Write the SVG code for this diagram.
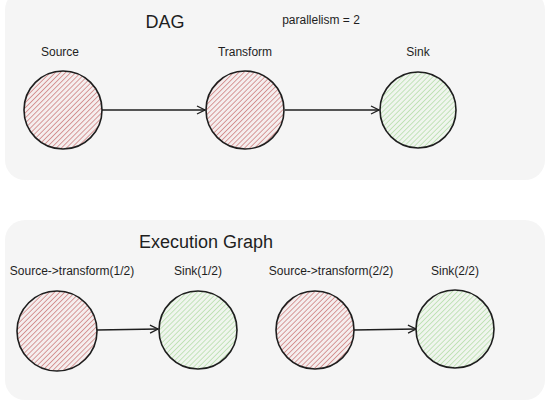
<svg xmlns="http://www.w3.org/2000/svg" width="547" height="401" viewBox="0 0 547 401">
<style>
.panel{fill:#f5f5f5;stroke:none}
.node{stroke:#1e1e1e;stroke-width:1.6}
.red{fill:url(#hr)}
.green{fill:url(#hg)}
.lbl{font-family:"Liberation Sans",Arial,sans-serif;font-size:12px;fill:#1e1e1e;text-anchor:middle}
.title{font-family:"Liberation Sans",Arial,sans-serif;font-size:18px;fill:#1e1e1e;text-anchor:middle}
.edge{stroke:#1e1e1e;stroke-width:1.3;fill:none;marker-end:url(#arr)}
</style>
<defs>
<pattern id="hr" patternUnits="userSpaceOnUse" width="3.6" height="4" patternTransform="rotate(45)">
<rect width="3.6" height="4" fill="#f5eeee"/>
<line x1="0" y1="0" x2="0" y2="4" stroke="#cc7c7c" stroke-width="1.5"/>
</pattern>
<pattern id="hg" patternUnits="userSpaceOnUse" width="3.6" height="4" patternTransform="rotate(45)">
<rect width="3.6" height="4" fill="#f0f5ee"/>
<line x1="0" y1="0" x2="0" y2="4" stroke="#b4dea8" stroke-width="1.5"/>
</pattern>
<marker id="arr" markerWidth="10" markerHeight="10" refX="9" refY="5" orient="auto" markerUnits="userSpaceOnUse">
<path d="M1,1 L9,5 L1,9" fill="none" stroke="#1e1e1e" stroke-width="1.3"/>
</marker>
</defs>
<rect class="panel" x="5" y="-10" width="540" height="190" rx="20"/>
<rect class="panel" x="5" y="220" width="540" height="180" rx="20"/>
<text class="title" x="165" y="28">DAG</text>
<text class="lbl" x="321" y="24">parallelism = 2</text>
<text class="title" x="206" y="248">Execution Graph</text>
<g id="edges">
<line class="edge" x1="102" y1="110" x2="205" y2="110"/>
<line class="edge" x1="285" y1="110" x2="379" y2="110"/>
<line class="edge" x1="97" y1="330" x2="158" y2="329"/>
<line class="edge" x1="354" y1="330" x2="416" y2="329"/>
</g>
<g id="source">
<circle class="node red" cx="63" cy="110" r="39"/>
<text class="lbl" x="60" y="56">Source</text>
</g>
<g id="transform">
<circle class="node red" cx="245" cy="110" r="39"/>
<text class="lbl" x="245" y="56">Transform</text>
</g>
<g id="sink">
<circle class="node green" cx="418" cy="110" r="38"/>
<text class="lbl" x="418" y="56">Sink</text>
</g>
<g id="st1">
<circle class="node red" cx="57" cy="331" r="40"/>
<text class="lbl" x="72" y="275">Source-&gt;transform(1/2)</text>
</g>
<g id="sink1">
<circle class="node green" cx="198" cy="330" r="39"/>
<text class="lbl" x="198" y="275">Sink(1/2)</text>
</g>
<g id="st2">
<circle class="node red" cx="315" cy="330" r="39"/>
<text class="lbl" x="331" y="275">Source-&gt;transform(2/2)</text>
</g>
<g id="sink2">
<circle class="node green" cx="455" cy="329" r="39"/>
<text class="lbl" x="455" y="275">Sink(2/2)</text>
</g>
</svg>
